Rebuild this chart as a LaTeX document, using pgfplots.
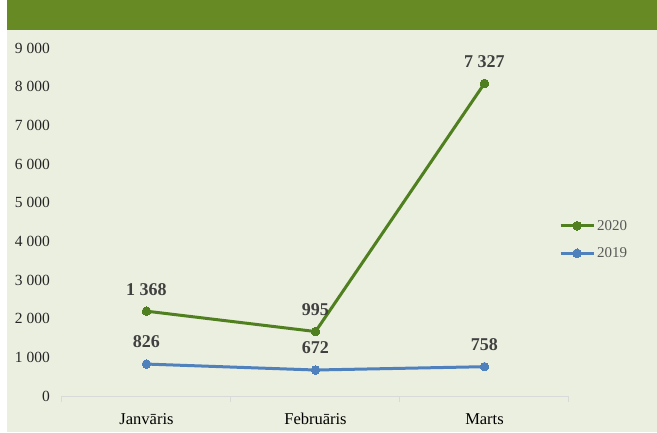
\documentclass[border=0pt]{standalone}
\usepackage{pgfplots}
\pgfplotsset{compat=1.18}
\usepackage{fontspec}
\setmainfont{Liberation Serif}
\definecolor{barc}{RGB}{104,138,37}
\definecolor{bgc}{RGB}{235,239,223}
\definecolor{gline}{RGB}{79,127,30}
\definecolor{bline}{RGB}{79,129,189}
\definecolor{labc}{RGB}{64,64,64}
\definecolor{axc}{RGB}{217,217,217}
\definecolor{legc}{RGB}{89,89,89}
\pgfplotstableread{
x v
0 826
1 672
2 758
}\dataA
\pgfplotstableread{
x v
0 1368
1 995
2 7327
}\dataB
\begin{document}
\begin{tikzpicture}[x=1pt,y=1pt]
\fill[white] (0,0) rectangle (657,432);
\fill[bgc] (7,0) rectangle (657,402);
\fill[barc] (7,402) rectangle (657,432);
\begin{axis}[
  at={(62pt,36pt)}, anchor=south west,
  scale only axis, width=507pt, height=348pt,
  xmin=-0.5, xmax=2.5, ymin=0, ymax=9000,
  axis line style={draw=none},
  stack plots=y,
  xtick={0,1,2},
  xticklabels={Janvāris,Februāris,Marts},
  minor xtick={-0.5,0.5,1.5,2.5},
  ytick={0,1000,...,9000},
  tick pos=left,
  major tick length=0pt,
  minor tick length=6pt,
  tick align=outside,
  minor tick style={axc, line width=1pt},
  /pgf/number format/assume math mode=true,
  /pgf/number format/1000 sep={\ },
  yticklabel style={font=\fontsize{15.5}{18}\selectfont, text=black!85, anchor=east, inner sep=0pt, xshift=-12pt},
  xticklabel style={font=\fontsize{16.5}{19}\selectfont, text=black, anchor=base, inner sep=0pt, yshift=-28pt},
  nodes near coords={\pgfmathprintnumber[assume math mode=true,1000 sep={\ }]{\pgfplotspointmeta}},
  every node near coord/.append style={font=\bfseries\fontsize{18}{20}\selectfont, text=labc, anchor=center, yshift=22pt, inner sep=0pt},
  reverse legend,
  legend style={at={(0.9800,0.4497)}, anchor=west, draw=none, fill=none, inner sep=0pt,
    font=\fontsize{15}{17}\selectfont, text=legc, row sep=12pt},
  legend cell align=left,
  legend image code/.code={\draw[mark repeat=2,mark phase=2,#1] plot coordinates {(0pt,0pt) (16.5pt,0pt) (33pt,0pt)};},
]
\draw[axc, line width=1pt] (axis cs:-0.5,0) -- (axis cs:2.5,0);
\addplot[bline, line width=3pt, mark=*, mark size=4.3pt, mark options={fill=bline, draw=bline, line width=0pt}, point meta=\thisrow{v}] table[x=x,y=v] {\dataA};
\addlegendentry{2019}
\addplot[gline, line width=3pt, mark=*, mark size=4.3pt, mark options={fill=gline, draw=gline, line width=0pt}, point meta=\thisrow{v}] table[x=x,y=v] {\dataB};
\addlegendentry{2020}
\end{axis}
\pgfresetboundingbox
\useasboundingbox (0,0) rectangle (657,432);
\end{tikzpicture}
\end{document}
